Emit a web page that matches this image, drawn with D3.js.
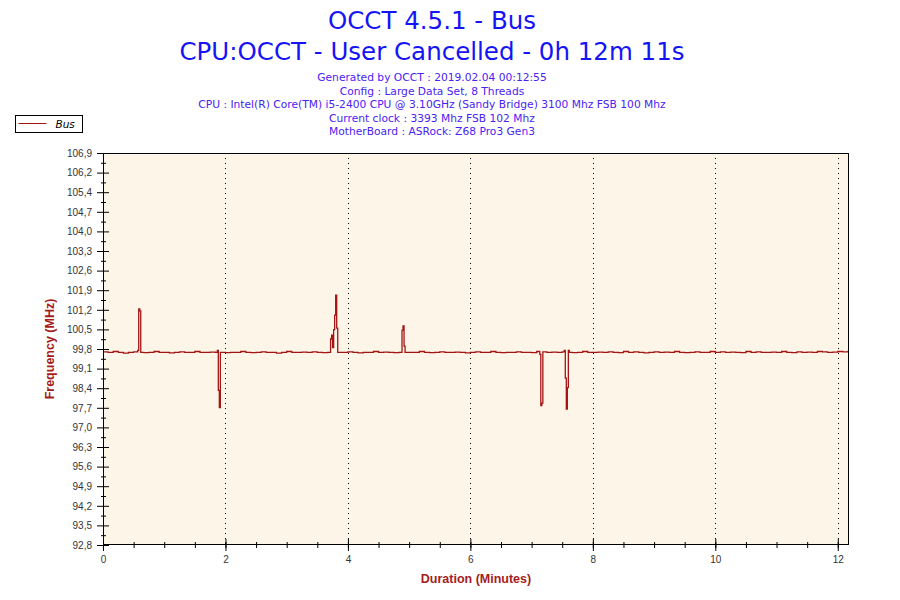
<!DOCTYPE html>
<html>
<head>
<meta charset="utf-8">
<script src="https://cdn.jsdelivr.net/npm/d3@7"></script>
<style>
  body { margin: 0; background: #fff; }
  svg { display: block; }
</style>
</head>
<body>
<div id="chart"></div>
<script>
// Header texts
const titleLines = ['OCCT 4.5.1 - Bus', 'CPU:OCCT - User Cancelled - 0h 12m 11s'];
const infoLines = [
  'Generated by OCCT : 2019.02.04 00:12:55',
  'Config : Large Data Set, 8 Threads',
  'CPU : Intel(R) Core(TM) i5-2400 CPU @ 3.10GHz (Sandy Bridge) 3100 Mhz FSB 100 Mhz',
  'Current clock : 3393 Mhz FSB 102 Mhz',
  'MotherBoard : ASRock: Z68 Pro3 Gen3'
];
const seriesName = 'Bus';

// Axes
const yDomain = [92.8, 106.9];
const yTickLabels = ['92,8', '93,5', '94,2', '94,9', '95,6', '96,3', '97,0', '97,7', '98,4', '99,1', '99,8',
  '100,5', '101,2', '101,9', '102,6', '103,3', '104,0', '104,7', '105,4', '106,2', '106,9'];
const xTicks = [0, 2, 4, 6, 8, 10, 12];
const totalSeconds = 731; // 0h 12m 11s

// Bus clock (MHz), one reading every 5 s from 0 s
const sampleStep = 5;
const baseMhz = [
  99.75, 99.73, 99.76, 99.73, 99.70, 99.73, 99.75, 99.73, 99.72, 99.73, 99.76, 99.73, 99.73, 99.71, 99.73, 99.75, 99.73, 99.73, 99.76, 99.73,
  99.73, 99.74, 99.73, 99.75, 99.72, 99.73, 99.73, 99.76, 99.73, 99.72, 99.73, 99.75, 99.73, 99.73, 99.70, 99.73, 99.76, 99.73, 99.73, 99.74,
  99.73, 99.75, 99.73, 99.72, 99.73, 99.76, 99.73, 99.73, 99.75, 99.73, 99.71, 99.73, 99.73, 99.76, 99.73, 99.74, 99.73, 99.72, 99.73, 99.75,
  99.73, 99.73, 99.76, 99.73, 99.72, 99.73, 99.75, 99.73, 99.73, 99.74, 99.73, 99.71, 99.73, 99.75, 99.73, 99.73, 99.76, 99.73, 99.72, 99.73,
  99.73, 99.75, 99.73, 99.73, 99.72, 99.76, 99.73, 99.73, 99.74, 99.73, 99.75, 99.73, 99.72, 99.73, 99.76, 99.73, 99.73, 99.74, 99.73, 99.75,
  99.73, 99.72, 99.76, 99.73, 99.75, 99.73, 99.71, 99.73, 99.75, 99.73, 99.74, 99.73, 99.76, 99.73, 99.72, 99.73, 99.75, 99.73, 99.73, 99.76,
  99.73, 99.75, 99.73, 99.74, 99.73, 99.72, 99.76, 99.73, 99.75, 99.73, 99.73, 99.74, 99.73, 99.76, 99.73, 99.72, 99.75, 99.73, 99.74, 99.73,
  99.76, 99.75, 99.73, 99.74, 99.76, 99.75, 99.76
];

// Short spikes and dips read at 1 s resolution
const eventSeconds = [34, 35, 36, 37,
  112, 113, 114, 115,
  222, 223, 224, 225, 226, 227, 228, 229, 230,
  292, 293, 294, 295, 296,
  428, 429, 430, 431,
  452, 453, 454, 455, 456, 457];
const eventMhz = [99.80, 101.29, 101.22, 99.73,
  99.80, 98.36, 97.74, 99.73,
  99.73, 100.21, 100.35, 99.90, 100.55, 101.07, 101.79, 100.60, 99.73,
  99.73, 100.53, 100.68, 99.95, 99.73,
  99.66, 97.81, 97.90, 99.75,
  99.80, 98.80, 97.69, 98.46, 99.80, 99.73];

// Merge both into one series keyed by second
const readings = new Map();
baseMhz.forEach((v, i) => readings.set(i * sampleStep, v));
eventSeconds.forEach((s, i) => readings.set(s, eventMhz[i]));
readings.set(totalSeconds, baseMhz[baseMhz.length - 1]);
const data = Array.from(readings, ([sec, mhz]) => ({ min: sec / 60, mhz }))
  .sort((a, b) => a.min - b.min);

const width = 900, height = 600;
const margin = { top: 153, right: 51, bottom: 55, left: 103 };
const innerW = width - margin.left - margin.right;
const innerH = height - margin.top - margin.bottom;

const blue = '#1414f5';
const infoBlue = '#4a22f2';
const darkRed = '#a51d1d';
const lineRed = '#a31515';

const svg = d3.select('#chart').append('svg')
  .attr('width', width)
  .attr('height', height);

// Titles
svg.append('g').selectAll('text')
  .data(titleLines)
  .join('text')
  .attr('x', 432)
  .attr('y', (d, i) => 29 + i * 30.5)
  .attr('text-anchor', 'middle')
  .attr('font-family', 'DejaVu Sans, Verdana, sans-serif')
  .attr('font-size', 24.5)
  .attr('fill', blue)
  .text(d => d);

svg.append('g').selectAll('text')
  .data(infoLines)
  .join('text')
  .attr('x', 432)
  .attr('y', (d, i) => 81 + i * 13.5)
  .attr('text-anchor', 'middle')
  .attr('font-family', 'DejaVu Sans, Verdana, sans-serif')
  .attr('font-size', 10.7)
  .attr('fill', infoBlue)
  .text(d => d);

// Legend
const legend = svg.append('g').attr('transform', 'translate(15.5,115.5)');
legend.append('rect')
  .attr('width', 67).attr('height', 17)
  .attr('fill', '#fff').attr('stroke', '#000');
legend.append('line')
  .attr('x1', 3).attr('x2', 31).attr('y1', 8).attr('y2', 8)
  .attr('stroke', lineRed).attr('stroke-width', 1);
legend.append('text')
  .attr('x', 40).attr('y', 12.5)
  .attr('font-family', 'DejaVu Sans, Verdana, sans-serif')
  .attr('font-style', 'italic')
  .attr('font-size', 10.5)
  .attr('fill', '#000')
  .text(seriesName);

const g = svg.append('g')
  .attr('transform', `translate(${margin.left},${margin.top})`);

const x = d3.scaleLinear().domain([0, totalSeconds / 60]).range([0, innerW]);
const y = d3.scaleLinear().domain(yDomain).range([innerH, 0]);

const yStep = (yDomain[1] - yDomain[0]) / (yTickLabels.length - 1);
const yMajor = yTickLabels.map((d, i) => yDomain[0] + i * yStep);
const yMinor = yMajor.slice(1).map(v => v - yStep / 2);
const xMinor = d3.range(0.5, totalSeconds / 60, 0.5);

// Plot background
g.append('rect')
  .attr('width', innerW).attr('height', innerH)
  .attr('fill', '#fdf6e8');

// Dotted vertical grid
g.append('g').selectAll('line')
  .data(xTicks.filter(d => d > 0))
  .join('line')
  .attr('x1', d => Math.round(x(d)) + 0.5).attr('x2', d => Math.round(x(d)) + 0.5)
  .attr('y1', 0).attr('y2', innerH)
  .attr('stroke', '#000')
  .attr('stroke-dasharray', '1,4');

// Series line
g.append('path')
  .datum(data)
  .attr('fill', 'none')
  .attr('stroke', lineRed)
  .attr('stroke-width', 1.3)
  .attr('d', d3.line().curve(d3.curveStepAfter).x(d => x(d.min)).y(d => y(d.mhz)));

// Frame
g.append('rect')
  .attr('x', 0.5).attr('y', 0.5)
  .attr('width', innerW - 1).attr('height', innerH - 1)
  .attr('fill', 'none').attr('stroke', '#000');

const tickFont = 'Liberation Sans, Arial, sans-serif';

// Y axis
const yAxisG = g.append('g')
  .call(d3.axisLeft(y).tickValues(yMajor).tickSize(6).tickPadding(5)
    .tickFormat((d, i) => yTickLabels[i]));
yAxisG.select('.domain').remove();
yAxisG.selectAll('.tick line').attr('x2', 6).attr('x1', -6);
yAxisG.selectAll('text').attr('font-family', tickFont).attr('font-size', 10).attr('fill', '#333');

const yMinorG = g.append('g')
  .call(d3.axisLeft(y).tickValues(yMinor).tickSize(3).tickFormat(''));
yMinorG.select('.domain').remove();
yMinorG.selectAll('.tick line').attr('x1', -2).attr('x2', 3);

// X axis
const xAxisG = g.append('g')
  .attr('transform', `translate(0,${innerH})`)
  .call(d3.axisBottom(x).tickValues(xTicks).tickSize(6).tickPadding(5).tickFormat(d3.format('d')));
xAxisG.select('.domain').remove();
xAxisG.selectAll('.tick line').attr('y1', -6).attr('y2', 6);
xAxisG.selectAll('text').attr('font-family', tickFont).attr('font-size', 10).attr('fill', '#333');

const xMinorG = g.append('g')
  .attr('transform', `translate(0,${innerH})`)
  .call(d3.axisBottom(x).tickValues(xMinor).tickSize(3).tickFormat(''));
xMinorG.select('.domain').remove();
xMinorG.selectAll('.tick line').attr('y1', -3).attr('y2', 3);

// Axis titles
svg.append('text')
  .attr('transform', 'translate(54,349) rotate(-90)')
  .attr('text-anchor', 'middle')
  .attr('font-family', tickFont)
  .attr('font-weight', 'bold')
  .attr('font-size', 12.5)
  .attr('fill', darkRed)
  .text('Frequency (MHz)');

svg.append('text')
  .attr('x', 476).attr('y', 583)
  .attr('text-anchor', 'middle')
  .attr('font-family', tickFont)
  .attr('font-weight', 'bold')
  .attr('font-size', 12.5)
  .attr('fill', darkRed)
  .text('Duration (Minutes)');
</script>
</body>
</html>
